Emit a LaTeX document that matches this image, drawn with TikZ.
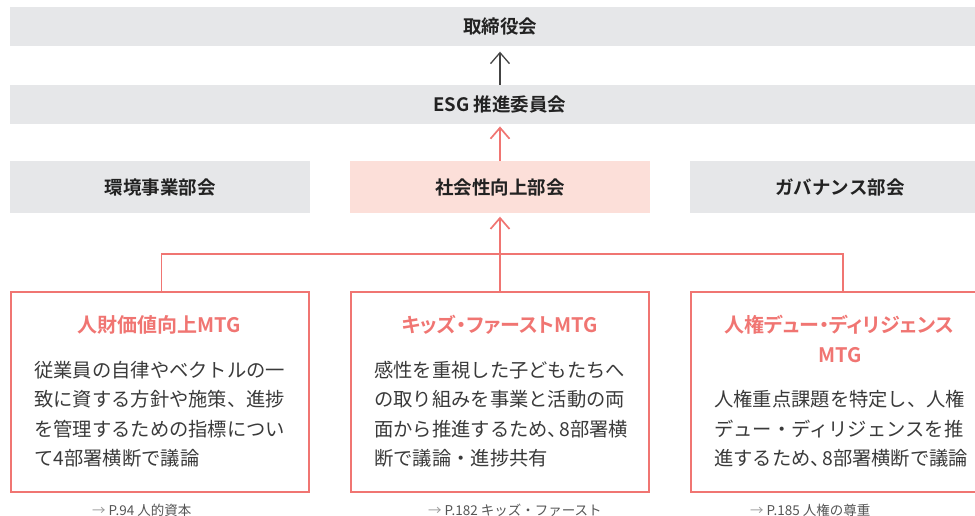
\documentclass[tikz,border=0pt]{standalone}
\usepackage{fontspec}
\setmainfont{Noto Sans CJK JP}[BoldFont={Noto Sans CJK JP Bold}]
\newfontfamily\ttlfont{Noto Sans CJK JP Bold}[RawFeature=+palt]
\usetikzlibrary{arrows.meta}
\definecolor{barg}{HTML}{E6E7E9}
\definecolor{pinkfill}{HTML}{FCDFD9}
\definecolor{pk}{HTML}{F07572}
\definecolor{darktxt}{HTML}{222222}
\definecolor{bodytxt}{HTML}{3A3A3A}
\definecolor{linktxt}{HTML}{555555}
\definecolor{linkarr}{HTML}{9A9A9A}
\definecolor{arrowgray}{HTML}{444444}
\begin{document}
\begin{tikzpicture}[x=1pt,y=-1pt,
  bar/.style={fill=barg, inner sep=0pt, minimum width=980pt, minimum height=39.5pt,
    font=\fontsize{18.5}{20}\selectfont\bfseries, text=darktxt},
  subbox/.style={fill=barg, inner sep=0pt, minimum width=300pt, minimum height=52pt,
    font=\fontsize{18.5}{20}\selectfont\bfseries, text=darktxt},
  mtg/.style={draw=pk, line width=2pt, inner sep=0pt, minimum width=298pt, minimum height=200.5pt},
  ttl/.style={text=pk, inner sep=0pt, font=\fontsize{20}{24}\selectfont\ttlfont},
  bodyline/.style={text=bodytxt, anchor=west, inner sep=0pt, font=\fontsize{19.3}{24}\selectfont},
  lnk/.style={text=linktxt, anchor=west, inner sep=0pt, font=\fontsize{13.5}{16}\selectfont},
  pinkline/.style={draw=pk, line width=1.7pt},
  pinkarrow/.style={pinkline, -{Straight Barb[length=11pt,width=19pt]}},
  grayarrow/.style={draw=arrowgray, line width=1.3pt, -{Straight Barb[length=11pt,width=19pt]}}
]
\useasboundingbox (0,0) rectangle (975,516);
\clip (0,0) rectangle (975,516);

% top bars
\node[bar] (board) at (500,26.75) {取締役会};
\node[bar] (esg) at (500,104.5) {ESG 推進委員会};

% sub committees
\node[subbox] (env) at (160,187) {環境事業部会};
\node[subbox, fill=pinkfill] (social) at (500,187) {社会性向上部会};
\node[subbox] (gov) at (840,187) {ガバナンス部会};

% MTG boxes
\node[mtg] (hr) at (159.5,391.75) {};
\node[mtg] (kids) at (499.5,391.75) {};
\node[mtg] (rights) at (840,391.75) {};

% connectors
\draw[grayarrow, shorten >=5pt] (esg.north) -- (board.south);
\draw[pinkarrow, shorten >=2pt] (social.north) -- (esg.south);
\coordinate (jn) at (500,254);
\draw[pinkline] ([xshift=2pt]hr.north) |- (jn) -| ([xshift=3pt]rights.north);
\draw[pinkarrow, shorten >=3.5pt] ([xshift=0.5pt]kids.north) -- (social.south);

% titles
\node[ttl] (hrT) at (159.5,325) {人財価値向上MTG};
\node[ttl] (kidsT) at (500,325) {キッズ・ファーストMTG};
\node[ttl] (rightsT1) at (839,325) {人権デュー・ディリジェンス};
\node[ttl] (rightsT2) at (840,355) {MTG};

% body texts
\node[bodyline] (hr1) at (34,370) {従業員の自律やベクトルの一};
\node[bodyline] (hr2) at (34,399.5) {致に資する方針や施策、進捗};
\node[bodyline] (hr3) at (34,429) {を管理するための指標につい};
\node[bodyline] (hr4) at (34,458.5) {て4部署横断で議論};

\node[bodyline] (kd1) at (374,370) {感性を重視した子どもたちへ};
\node[bodyline] (kd2) at (374,399.5) {の取り組みを事業と活動の両};
\node[bodyline] (kd3) at (374,429) {面から推進するため、\kern-.4em 8部署横};
\node[bodyline] (kd4) at (374,458.5) {断で議論・進捗共有};

\node[bodyline] (rt1) at (714,399.5) {人権重点課題を特定し、人権};
\node[bodyline] (rt2) at (714,429) {デュー・ディリジェンスを推};
\node[bodyline] (rt3) at (714,458.5) {進するため、\kern-.4em 8部署横断で議論};

% page links
\node[lnk] (l1) at (92,510) {\textcolor{linkarr}{→} P.94 人的資本};
\node[lnk] (l2) at (428,510) {\textcolor{linkarr}{→} P.182 キッズ・ファースト};
\node[lnk] (l3) at (750,510) {\textcolor{linkarr}{→} P.185 人権の尊重};
\end{tikzpicture}
\end{document}
